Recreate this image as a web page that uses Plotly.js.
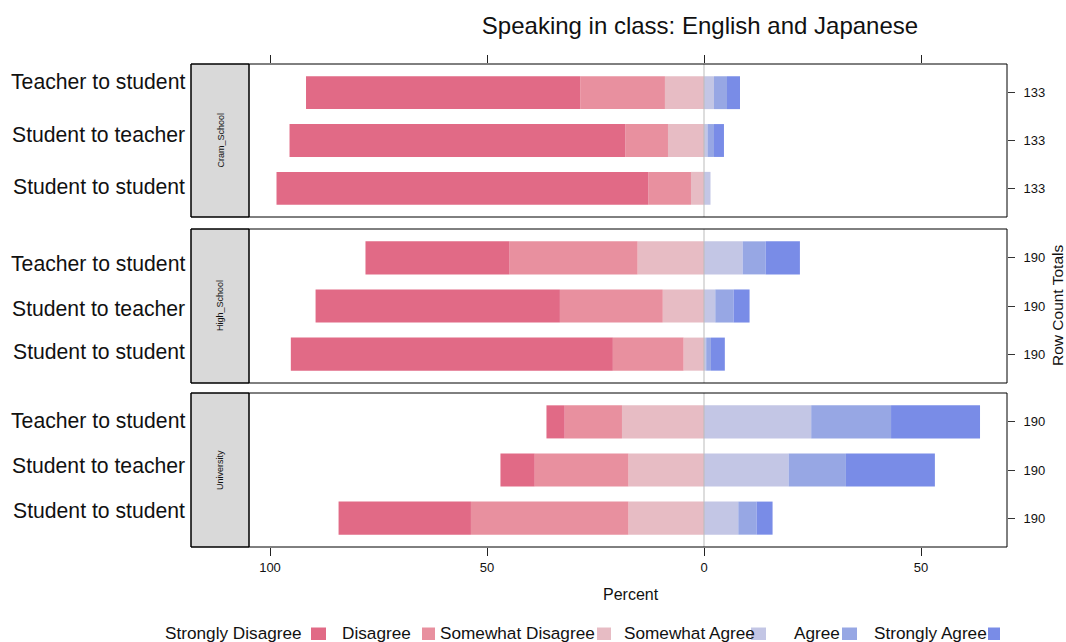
<!DOCTYPE html>
<html>
<head>
<meta charset="utf-8">
<script src="https://cdn.plot.ly/plotly-3.0.1.min.js"></script>
<style>html,body{margin:0;padding:0;background:#fff;}#chart{width:1066px;height:642px;}</style>
</head>
<body>
<div id="chart"></div>
<script>
// ---- data (percent of respondents) ----
const panels = ['Cram_School', 'High_School', 'University'];
const rows = ['Teacher to student', 'Student to teacher', 'Student to student'];
const rowTotals = [133, 190, 190];
const categories = ['Strongly Disagree', 'Disagree', 'Somewhat Disagree', 'Somewhat Agree', 'Agree', 'Strongly Agree'];
// each array: [panel][row] in the order of `rows`
const stronglyDisagree = [[63.2, 77.4, 85.7], [33.2, 56.3, 74.2], [4.2, 7.9, 30.5]];
const disagree         = [[19.5, 9.8, 9.8],   [29.5, 23.7, 16.3], [13.2, 21.6, 36.3]];
const somewhatDisagree = [[9.0, 8.3, 3.0],    [15.3, 9.5, 4.7],   [18.9, 17.4, 17.4]];
const somewhatAgree    = [[2.3, 0.8, 1.5],    [8.9, 2.6, 0.5],    [24.7, 19.5, 7.9]];
const agree            = [[3.0, 1.5, 0.0],    [5.3, 4.2, 1.1],    [18.4, 13.2, 4.2]];
const stronglyAgree    = [[3.0, 2.3, 0.0],    [7.9, 3.7, 3.2],    [20.5, 20.5, 3.7]];
const tickVals = [-100, -50, 0, 50];
const tickText = ['100', '50', '0', '50'];

const colors = {
  'Strongly Disagree': '#E16A86',
  'Disagree': '#E8909F',
  'Somewhat Disagree': '#E7BCC4',
  'Somewhat Agree': '#C3C6E5',
  'Agree': '#97A7E4',
  'Strongly Agree': '#798CE7'
};

// ---- layout geometry (pixels) ----
const W = 1066, H = 642;
const px = v => v / W;
const py = v => 1 - v / H;
const stripL = 191, plotL = 249, plotR = 1007;
const panelBox = [[64, 217], [229, 383], [393, 547]];
const rowLabelY = [[81.5, 134, 186.5], [263, 308, 352], [420.5, 465, 510]];
const FONT = 'Liberation Sans, Arial, Helvetica, sans-serif';

const valueSets = {
  'Strongly Disagree': stronglyDisagree,
  'Disagree': disagree,
  'Somewhat Disagree': somewhatDisagree,
  'Somewhat Agree': somewhatAgree,
  'Agree': agree,
  'Strongly Agree': stronglyAgree
};
const negOrder = ['Somewhat Disagree', 'Disagree', 'Strongly Disagree'];
const posOrder = ['Somewhat Agree', 'Agree', 'Strongly Agree'];

const traces = [];
panels.forEach((p, i) => {
  const ax = i === 0 ? '' : String(i + 1);
  negOrder.concat(posOrder).forEach(cat => {
    const sign = negOrder.includes(cat) ? -1 : 1;
    traces.push({
      type: 'bar', orientation: 'h',
      x: valueSets[cat][i].map(v => sign * v),
      y: rows,
      xaxis: 'x' + ax, yaxis: 'y' + ax,
      name: cat, showlegend: false,
      marker: { color: colors[cat], line: { width: 0 } },
      hovertemplate: p + '<br>%{y}<br>' + cat + ': ' + '%{customdata}%<extra></extra>',
      customdata: valueSets[cat][i]
    });
  });
});

const xRange = [-(704 - plotL) / 4.34, (plotR - 704) / 4.34];
const yRange = [-0.6, 2.6];
const layout = {
  width: W, height: H,
  margin: { l: 0, r: 0, t: 0, b: 0, pad: 0 },
  paper_bgcolor: '#fff', plot_bgcolor: 'rgba(0,0,0,0)',
  font: { family: FONT, color: '#000' },
  barmode: 'relative', bargap: 0.3125,
  showlegend: false,
  title: {
    text: 'Speaking in class: English and Japanese',
    x: px(700), xanchor: 'center', xref: 'paper',
    y: py(26), yanchor: 'middle', yref: 'container',
    font: { size: 24, family: FONT, color: '#111' }
  },
  shapes: [], annotations: []
};

panels.forEach((p, i) => {
  const ax = i === 0 ? '' : String(i + 1);
  const [top, bot] = panelBox[i];
  const xa = {
    domain: [px(plotL), px(plotR)], range: xRange, anchor: 'y' + ax,
    tickmode: 'array', tickvals: tickVals, ticktext: tickText,
    showgrid: false, zeroline: false, showline: false, automargin: false,
    ticks: '', showticklabels: false, fixedrange: true
  };
  if (i === 0) { xa.side = 'top'; xa.ticks = 'outside'; xa.ticklen = 8; xa.tickcolor = '#222'; }
  if (i === 2) {
    xa.ticks = 'outside'; xa.ticklen = 8; xa.tickcolor = '#222';
    xa.showticklabels = true; xa.tickfont = { size: 13, family: FONT, color: '#111' };
  }
  if (i > 0) xa.matches = 'x';
  layout['xaxis' + ax] = xa;
  layout['yaxis' + ax] = {
    domain: [py(bot), py(top)], anchor: 'free', position: px(stripL),
    type: 'category', categoryorder: 'array', categoryarray: rows.slice().reverse(),
    range: yRange, showgrid: false, zeroline: false, showline: false, ticks: '',
    showticklabels: false, automargin: false, fixedrange: true
  };
  const rAx = 'yaxis' + (i + 4);
  layout[rAx] = {
    domain: [py(bot), py(top)], overlaying: 'y' + ax, anchor: 'x' + ax, side: 'right',
    range: yRange, tickmode: 'array', tickvals: [0, 1, 2],
    ticktext: rows.map(() => String(rowTotals[i])),
    ticks: 'outside', ticklen: 7, tickcolor: '#333',
    showgrid: false, zeroline: false, showline: false, automargin: false,
    tickfont: { size: 13, family: FONT, color: '#111' }, ticklabelstandoff: 6,
    fixedrange: true
  };
  // row labels at the left of the strip
  rows.forEach((r, k) => {
    layout.annotations.push({
      text: r, xref: 'paper', yref: 'paper', x: px(186.5), y: py(rowLabelY[i][k]),
      showarrow: false, xanchor: 'right', yanchor: 'middle',
      font: { size: 21.2, family: FONT, color: '#111' }
    });
  });
  // strip
  layout.shapes.push({
    type: 'rect', xref: 'paper', yref: 'paper', layer: 'below',
    x0: px(stripL), x1: px(plotL), y0: py(bot), y1: py(top),
    fillcolor: '#D9D9D9', line: { color: '#000', width: 1 }
  });
  // zero reference line
  layout.shapes.push({
    type: 'line', xref: 'x' + ax, yref: 'paper', layer: 'above',
    x0: 0, x1: 0, y0: py(bot), y1: py(top),
    line: { color: '#BBBBBB', width: 1 }
  });
  // panel border
  layout.shapes.push({
    type: 'rect', xref: 'paper', yref: 'paper', layer: 'above',
    x0: px(stripL), x1: px(plotR), y0: py(bot), y1: py(top),
    fillcolor: 'rgba(0,0,0,0)', line: { color: '#000', width: 1 }
  });
  layout.shapes.push({
    type: 'line', xref: 'paper', yref: 'paper', layer: 'above',
    x0: px(plotL), x1: px(plotL), y0: py(bot), y1: py(top),
    line: { color: '#000', width: 1 }
  });
  layout.annotations.push({
    text: p, xref: 'paper', yref: 'paper', x: px((stripL + plotL) / 2), y: py((top + bot) / 2),
    textangle: -90, showarrow: false, xanchor: 'center', yanchor: 'middle',
    font: { size: 9, family: FONT, color: '#111' }
  });
});

// dummy traces so the right-hand count axes are drawn
panels.forEach((p, i) => {
  const ax = i === 0 ? '' : String(i + 1);
  traces.push({
    type: 'scatter', mode: 'markers', x: [null], y: [null],
    xaxis: 'x' + ax, yaxis: 'y' + (i + 4), showlegend: false, hoverinfo: 'skip'
  });
});

layout.annotations.push({
  text: 'Percent', xref: 'paper', yref: 'paper', x: px(631), y: py(594),
  showarrow: false, xanchor: 'center', yanchor: 'middle',
  font: { size: 16, family: FONT, color: '#111' }
});
layout.annotations.push({
  text: 'Row Count Totals', xref: 'paper', yref: 'paper', x: px(1058), y: py(306),
  textangle: -90, showarrow: false, xanchor: 'center', yanchor: 'middle',
  font: { size: 15.5, family: FONT, color: '#111' }
});

// legend: text followed by a colour key
const legendTextX = [163, 340, 438, 622, 792, 872];
const legendKeyX = [[311, 326], [422, 435], [597, 611], [751, 766], [842, 857], [988, 1000]];
categories.forEach((cat, k) => {
  layout.annotations.push({
    text: cat, xref: 'paper', yref: 'paper', x: px(legendTextX[k]), y: py(633),
    showarrow: false, xanchor: 'left', yanchor: 'middle',
    font: { size: 17.2, family: FONT, color: '#111' }
  });
  layout.shapes.push({
    type: 'rect', xref: 'paper', yref: 'paper', layer: 'above',
    x0: px(legendKeyX[k][0]), x1: px(legendKeyX[k][1]), y0: py(640), y1: py(627.5),
    fillcolor: colors[cat], line: { width: 0 }
  });
});

Plotly.newPlot('chart', traces, layout, { displayModeBar: false, staticPlot: false });
</script>
</body>
</html>
